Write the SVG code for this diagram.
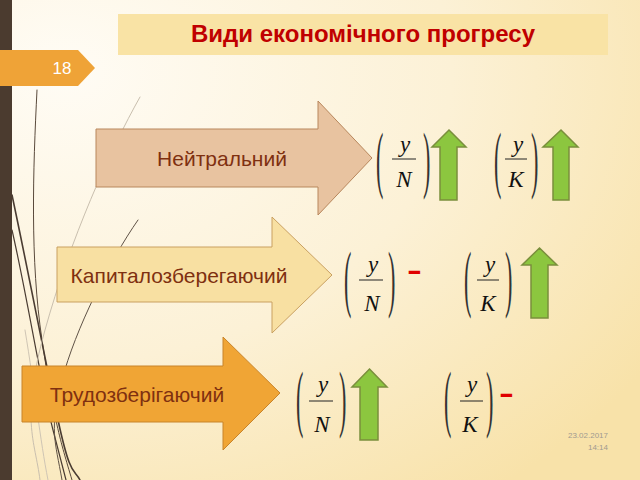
<svg xmlns="http://www.w3.org/2000/svg" width="640" height="480" viewBox="0 0 640 480">
  <defs>
    <radialGradient id="bg" cx="0.1" cy="0.15" r="1.1">
      <stop offset="0" stop-color="#fffcf5"/>
      <stop offset="0.55" stop-color="#fcf1d6"/>
      <stop offset="1" stop-color="#f8e2a9"/>
    </radialGradient>
    <style>
      .lbl { font-family: "Liberation Sans", Arial, sans-serif; font-size: 21px; fill: #7f3010; text-anchor: middle; }
      .mi { font-family: "Liberation Serif", "Times New Roman", serif; font-style: italic; font-size: 23px; fill: #111; text-anchor: middle; }
      .par { font-family: "Liberation Serif", "Times New Roman", serif; font-size: 74px; fill: #333; }
      .bar { stroke: #222; stroke-width: 1; }
      .up { fill: #8cc63f; stroke: #7a8f3c; stroke-width: 1.5; stroke-linejoin: miter; }
      .dash { font-family: "Liberation Sans", Arial, sans-serif; font-weight: bold; font-size: 28px; fill: #e00000; }
      .deco { fill: none; stroke-linecap: round; }
    </style>
  </defs>

  <!-- background -->
  <rect x="0" y="0" width="640" height="480" fill="url(#bg)"/>

  <!-- decorative wisps -->
  <g id="wisps">
    <path class="deco" d="M37,90 C33,170 30,260 42,340 S60,440 72,480" stroke="#5a4a3c" stroke-width="1"/>
    <path class="deco" d="M12,195 C30,280 45,360 58,420 S74,468 80,480" stroke="#4a3c32" stroke-width="1.6"/>
    <path class="deco" d="M12,230 C28,300 40,380 53,430 L66,480" stroke="#4a3c32" stroke-width="1.2"/>
    <path class="deco" d="M140,97 C110,150 70,240 45,330 S35,440 40,480" stroke="#c9bfae" stroke-width="1"/>
    <path class="deco" d="M138,220 C110,260 75,330 62,380 S55,440 62,480" stroke="#5f5246" stroke-width="1"/>
    <path class="deco" d="M25,330 C35,390 40,440 48,480" stroke="#cfc5b4" stroke-width="1"/>
  </g>

  <!-- left bar -->
  <rect x="0" y="0" width="12" height="480" fill="#4b3b2f"/>

  <!-- slide number tab -->
  <g id="slide-number">
    <polygon points="0,50 78,50 95,68 78,86 0,86" fill="#efa337"/>
    <text x="62" y="74" font-family="Liberation Sans, Arial, sans-serif" font-size="17" fill="#ffffff" text-anchor="middle">18</text>
  </g>

  <!-- title -->
  <g id="title">
    <rect x="118" y="14" width="490" height="41" fill="#f9e3a5"/>
    <text x="363" y="42" font-family="Liberation Sans, Arial, sans-serif" font-size="24" font-weight="bold" fill="#c00000" text-anchor="middle">Види економічного прогресу</text>
  </g>

  <!-- big arrows -->
  <g id="arrow-neutral">
    <polygon points="96,129 318,129 318,101 372,158 318,215 318,187 96,187" fill="#e8c3a0" stroke="#b8875c" stroke-width="1"/>
    <text class="lbl" x="222" y="166">Нейтральний</text>
  </g>
  <g id="arrow-capital">
    <polygon points="57,247 272,247 272,217 332,275 272,333 272,302 57,302" fill="#f8e0a2" stroke="#c9a061" stroke-width="1"/>
    <text class="lbl" x="179" y="283">Капиталозберегаючий</text>
  </g>
  <g id="arrow-labour">
    <polygon points="22,366 223,366 223,337 280,393 223,450 223,422 22,422" fill="#f0a535" stroke="#c8842a" stroke-width="1"/>
    <text class="lbl" x="137" y="402">Трудозберігаючий</text>
  </g>

  <!-- row 1 formulas -->
  <g id="f1-yN">
    <text class="par" transform="translate(376,184) scale(0.3,1)">(</text>
    <text class="par" transform="translate(423,184) scale(0.3,1)">)</text>
    <text class="mi" x="405" y="152">y</text>
    <line class="bar" x1="392" y1="159" x2="416" y2="159"/>
    <text class="mi" x="404" y="187">N</text>
  </g>
  <g id="up1">
    <polygon class="up" points="449,130 466,147 457,147 457,200 440,200 440,147 432,147"/>
  </g>
  <g id="f1-yK">
    <text class="par" transform="translate(494,184) scale(0.3,1)">(</text>
    <text class="par" transform="translate(531,184) scale(0.3,1)">)</text>
    <text class="mi" x="518" y="152">y</text>
    <line class="bar" x1="505" y1="159" x2="527" y2="159"/>
    <text class="mi" x="516" y="187">K</text>
  </g>
  <g id="up2">
    <polygon class="up" points="561,130 578,147 569,147 569,200 553,200 553,147 543,147"/>
  </g>

  <!-- row 2 formulas -->
  <g id="f2-yN">
    <text class="par" transform="translate(344,303) scale(0.3,1)">(</text>
    <text class="par" transform="translate(388,303) scale(0.3,1)">)</text>
    <text class="mi" x="373" y="272">y</text>
    <line class="bar" x1="359" y1="280" x2="383" y2="280"/>
    <text class="mi" x="372" y="311">N</text>
  </g>
  <g id="minus1">
    <text class="dash" transform="translate(407,279.5) scale(1.6,1)">-</text>
  </g>
  <g id="f2-yK">
    <text class="par" transform="translate(464,303) scale(0.3,1)">(</text>
    <text class="par" transform="translate(505,303) scale(0.3,1)">)</text>
    <text class="mi" x="490" y="272">y</text>
    <line class="bar" x1="477" y1="280" x2="499" y2="280"/>
    <text class="mi" x="488" y="311">K</text>
  </g>
  <g id="up3">
    <polygon class="up" points="539.5,248 557,265 548,265 548,318 531,318 531,265 522,265"/>
  </g>

  <!-- row 3 formulas -->
  <g id="f3-yN">
    <text class="par" transform="translate(296,423) scale(0.3,1)">(</text>
    <text class="par" transform="translate(339,423) scale(0.3,1)">)</text>
    <text class="mi" x="323" y="392">y</text>
    <line class="bar" x1="309" y1="401" x2="333" y2="401"/>
    <text class="mi" x="322" y="432">N</text>
  </g>
  <g id="up4">
    <polygon class="up" points="369.5,369 387,387 378,387 378,440 360,440 360,387 352,387"/>
  </g>
  <g id="f3-yK">
    <text class="par" transform="translate(444,423) scale(0.3,1)">(</text>
    <text class="par" transform="translate(486,423) scale(0.3,1)">)</text>
    <text class="mi" x="472" y="392">y</text>
    <line class="bar" x1="460" y1="401" x2="483" y2="401"/>
    <text class="mi" x="470" y="432">K</text>
  </g>
  <g id="minus2">
    <text class="dash" transform="translate(499,403) scale(1.6,1)">-</text>
  </g>

  <!-- date -->
  <g id="date" font-family="Liberation Sans, Arial, sans-serif" font-size="8" fill="#a09a90" text-anchor="end">
    <text x="608" y="438">23.02.2017</text>
    <text x="608" y="450">14:14</text>
  </g>
</svg>
